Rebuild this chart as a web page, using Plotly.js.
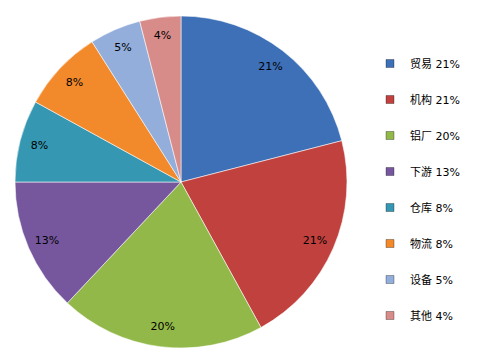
<!DOCTYPE html>
<html><head><meta charset="utf-8">
<script src="https://cdn.plot.ly/plotly-3.0.1.min.js"></script>
<style>html,body{margin:0;padding:0;background:#fff}</style>
</head><body><div id="chart" style="width:486px;height:360px"></div>
<script>
const categories = ['贸易','机构','铝厂','下游','仓库','物流','设备','其他'];
const values = [21,21,20,13,8,8,5,4];
const colors = ['#3D70B7','#C0413E','#92B849','#76579E','#3597B1','#F28A2C','#93AEDB','#D88C8A'];

const dom = {x:[15/486, 347/486], y:[1-348/360, 1-16/360]};
const pie = {
  type:'pie', labels:categories, values:values, sort:false, direction:'clockwise', rotation:0,
  marker:{colors:colors, line:{color:'rgba(255,255,255,0.55)', width:1}},
  textinfo:'none', hoverinfo:'label+percent', showlegend:false, domain:dom
};
const labelRing = {
  type:'pie', labels:categories, values:values, sort:false, direction:'clockwise', rotation:0,
  hole:0.76, marker:{colors:categories.map(()=> 'rgba(0,0,0,0)'), line:{width:0}},
  texttemplate:'%{value}%', textposition:'inside', insidetextorientation:'horizontal',
  textfont:{family:'DejaVu Sans, Noto Sans CJK SC', size:11, color:'#000'},
  hoverinfo:'skip', showlegend:false, domain:dom
};
const legendTraces = categories.map((c,i)=>({
  type:'scatter', mode:'markers', x:[null], y:[null], name:c+' '+values[i]+'%',
  legendgroup:'g'+i, marker:{symbol:'square', size:8, color:colors[i], line:{color:'rgba(0,0,0,0.3)',width:1}},
  showlegend:true, hoverinfo:'skip'
}));
Plotly.newPlot('chart',[pie, labelRing, ...legendTraces],{
  width:486, height:360, margin:{l:0,r:0,t:0,b:0},
  paper_bgcolor:'#fff', plot_bgcolor:'#fff',
  xaxis:{visible:false}, yaxis:{visible:false},
  showlegend:true,
  legend:{x:370/486, y:1-49/360, xanchor:'left', yanchor:'top', tracegroupgap:17,
    font:{family:'DejaVu Sans, Noto Sans CJK SC', size:11, color:'#000'},
    itemwidth:30, bgcolor:'rgba(0,0,0,0)'}
},{displayModeBar:false, staticPlot:true});
</script></body></html>
